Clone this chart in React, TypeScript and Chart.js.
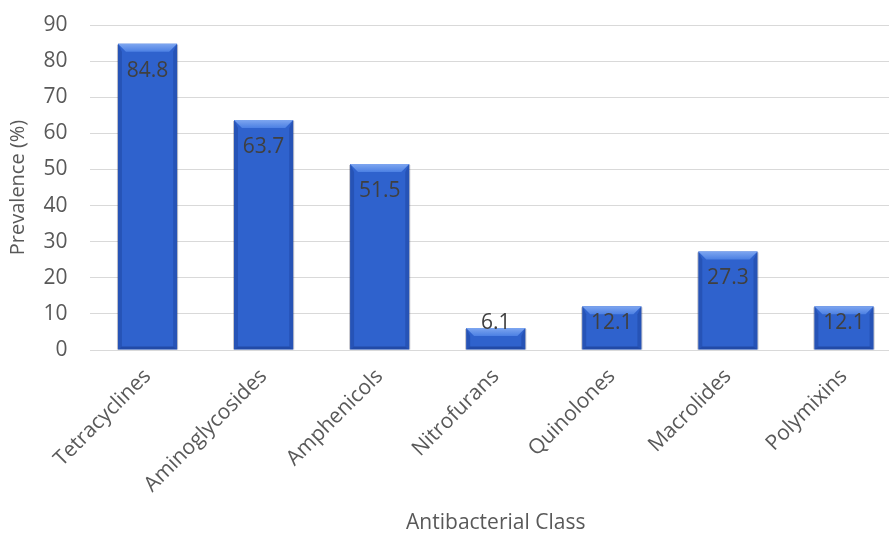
import React, { useEffect, useRef } from "react";
import { Chart, registerables } from "chart.js";

Chart.register(...registerables);

const categories = ["Tetracyclines", "Aminoglycosides", "Amphenicols", "Nitrofurans", "Quinolones", "Macrolides", "Polymixins"];
const prevalence = [84.8, 63.7, 51.5, 6.1, 12.1, 27.3, 12.1];
const yTicks = [0, 10, 20, 30, 40, 50, 60, 70, 80, 90];

const FONT = "'Open Sans', 'Liberation Sans', sans-serif";

const bevelPlugin = {
  id: "bevel",
  afterDatasetsDraw(chart: any) {
    const ctx = chart.ctx;
    const meta = chart.getDatasetMeta(0);
    meta.data.forEach((bar: any, i: number) => {
      const { x, y, base, width } = bar.getProps(["x", "y", "base", "width"], true);
      const l = x - width / 2;
      const r = x + width / 2;
      const t = y;
      const b = base;
      const bv = Math.min(8, (b - t) / 2);
      const sv = 4;
      ctx.save();
      // side bevels
      ctx.fillStyle = "rgba(20,50,130,0.3)";
      ctx.beginPath();
      ctx.moveTo(l, t);
      ctx.lineTo(l + sv, t + bv);
      ctx.lineTo(l + sv, b - 3);
      ctx.lineTo(l, b);
      ctx.closePath();
      ctx.fill();
      ctx.beginPath();
      ctx.moveTo(r, t);
      ctx.lineTo(r - sv, t + bv);
      ctx.lineTo(r - sv, b - 3);
      ctx.lineTo(r, b);
      ctx.closePath();
      ctx.fill();
      // bottom bevel
      ctx.fillStyle = "rgba(15,40,110,0.4)";
      ctx.beginPath();
      ctx.moveTo(l, b);
      ctx.lineTo(l + sv, b - 3);
      ctx.lineTo(r - sv, b - 3);
      ctx.lineTo(r, b);
      ctx.closePath();
      ctx.fill();
      // top bevel
      const g = ctx.createLinearGradient(0, t, 0, t + bv);
      g.addColorStop(0, "#7ea6f0");
      g.addColorStop(1, "#4c80e3");
      ctx.fillStyle = g;
      ctx.beginPath();
      ctx.moveTo(l, t);
      ctx.lineTo(r, t);
      ctx.lineTo(r - sv * 2, t + bv);
      ctx.lineTo(l + sv * 2, t + bv);
      ctx.closePath();
      ctx.fill();
      // soft shadow edges
      ctx.strokeStyle = "rgba(60,60,80,0.3)";
      ctx.lineWidth = 1;
      ctx.beginPath();
      ctx.moveTo(l - 0.5, t + 1);
      ctx.lineTo(l - 0.5, b);
      ctx.moveTo(r + 0.5, t + 1);
      ctx.lineTo(r + 0.5, b);
      ctx.stroke();
      ctx.restore();

      // data label
      const ly = Math.min(t + 27, b - 26);
      ctx.save();
      ctx.font = `21px ${FONT}`;
      ctx.fillStyle = "#404040";
      ctx.textAlign = "center";
      ctx.textBaseline = "middle";
      ctx.fillText(String(prevalence[i]), x, ly);
      ctx.restore();
    });
  },
};

export default function App() {
  const ref = useRef<HTMLCanvasElement | null>(null);
  useEffect(() => {
    if (!ref.current) return;
    const chart = new Chart(ref.current, {
      type: "bar",
      data: {
        labels: categories,
        datasets: [
          {
            data: prevalence,
            backgroundColor: "#2f62cd",
            borderWidth: 0,
            barPercentage: 0.51,
            categoryPercentage: 1,
          },
        ],
      },
      options: {
        responsive: false,
        animation: false,
        layout: { padding: { left: 0, right: 3, top: 25, bottom: 0 } },
        plugins: { legend: { display: false }, tooltip: { enabled: false } },
        scales: {
          x: {
            grid: { display: false, drawTicks: false },
            border: { display: false },
            ticks: {
              color: "#595959",
              font: { family: FONT, size: 21 },
              minRotation: 45,
              maxRotation: 45,
              padding: 14,
              autoSkip: false,
            },
            title: {
              display: true,
              text: "Antibacterial Class",
              color: "#595959",
              font: { family: FONT, size: 21 },
              padding: { top: -3, bottom: -3 },
            },
            afterFit(scale: any) {
              scale.height = 183;
              scale.paddingLeft = 0;
              scale.paddingRight = 0;
            },
          },
          y: {
            min: 0,
            max: 90,
            afterBuildTicks(scale: any) {
              scale.ticks = yTicks.map((v) => ({ value: v }));
            },
            grid: { color: "#d9d9d9", lineWidth: 1, drawTicks: false },
            border: { display: false },
            ticks: {
              color: "#595959",
              font: { family: FONT, size: 21 },
              padding: 22,
            },
            title: {
              display: true,
              text: "Prevalence (%)",
              color: "#595959",
              font: { family: FONT, size: 20 },
              padding: { top: 6, bottom: 4 },
            },
            afterFit(scale: any) {
              scale.width = 89.5;
              scale.paddingTop = 0;
              scale.paddingBottom = 0;
            },
          },
        },
      },
      plugins: [bevelPlugin],
    });
    return () => chart.destroy();
  }, []);
  return (
    <div style={{ position: "fixed", left: 0, top: 0, width: 889, height: 533, overflow: "hidden", background: "#fff" }}>
      <canvas ref={ref} width={905} height={533} style={{ display: "block" }} />
    </div>
  );
}
